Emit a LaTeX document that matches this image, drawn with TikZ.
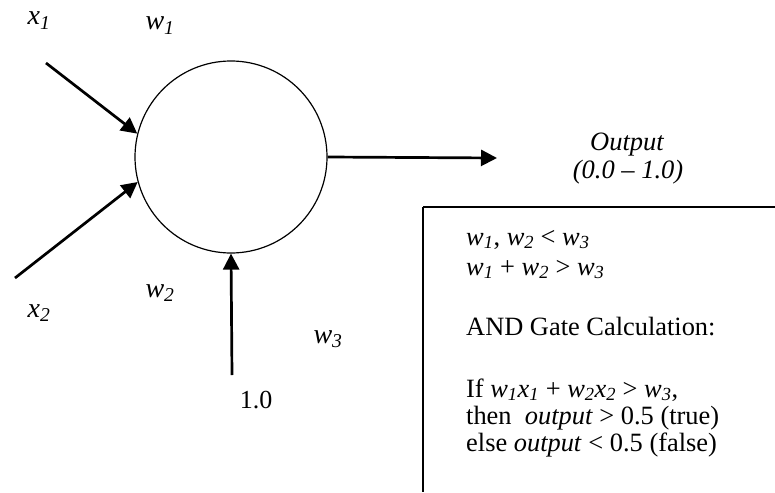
\documentclass[tikz,border=0pt]{standalone}
\usepackage{fontspec}
\setmainfont{Liberation Serif}
\usetikzlibrary{arrows.meta}
\newcommand{\vw}[1]{\textit{w\textsubscript{#1}}}
\newcommand{\vx}[1]{\textit{x\textsubscript{#1}}}
\begin{document}
\begin{tikzpicture}[x=1pt,y=-1pt,
  lbl/.style={font=\fontsize{28}{30}\selectfont\itshape, anchor=base, inner sep=0pt},
  midlbl/.style={font=\fontsize{26.5}{28}\selectfont\itshape, anchor=base, inner sep=0pt},
  plainlbl/.style={font=\fontsize{26}{28}\selectfont, anchor=base, inner sep=0pt},
  txt/.style={font=\fontsize{26.4}{28}\selectfont, anchor=base west, inner sep=0pt},
  conn/.style={line width=2.7pt, -{Triangle[length=16pt,width=16pt]}},
  neuronstyle/.style={circle, draw, line width=1.2pt, minimum size=192pt, inner sep=0pt},
  boxline/.style={line width=2.2pt}]
\useasboundingbox (0,0) rectangle (775,492);
% neuron
\node[neuronstyle] (neuron) at (231,157) {};
% input start points
\coordinate (s1) at (46,63);
\coordinate (s2) at (15,278);
\coordinate (s3) at (232,375);
\coordinate (oend) at (497,158);
% connectors
\draw[conn] (s1) -- (neuron.166);
\draw[conn] (s2) -- (neuron.195);
\draw[conn] (s3) -- (neuron.south);
\draw[conn] (neuron.east) -- (oend);
% labels
\node[lbl] (lx1) at (39,25) {x\textsubscript{1}};
\node[lbl] (lw1) at (160,30) {w\textsubscript{1}};
\node[lbl] (lw2) at (160,297) {w\textsubscript{2}};
\node[lbl] (lx2) at (39,317) {x\textsubscript{2}};
\node[lbl] (lw3) at (328,343) {w\textsubscript{3}};
\node[plainlbl] (lone) at (256,408) {1.0};
\node[midlbl] (lout) at (627,150) {Output};
\node[midlbl] (lrange) at (628,178) {(0.0 – 1.0)};
% box
\coordinate (btr) at (775,207);
\coordinate (btl) at (423,207);
\coordinate (bbl) at (423,492);
\draw[boxline] (btr) -- (btl);
\draw[line width=1.6pt] (btl) -- (bbl);
% box text
\node[txt] (t1) at (466,245) {\vw{1}, \vw{2} < \vw{3}};
\node[txt] (t2) at (466,275) {\vw{1} + \vw{2} > \vw{3}};
\node[txt] (t3) at (466,335) {AND Gate Calculation:};
\node[txt] (t4) at (466,397) {If \vw{1}\vx{1} + \vw{2}\vx{2} > \vw{3},};
\node[txt] (t5) at (466,424) {then\ \ \textit{output} > 0.5 (true)};
\node[txt] (t6) at (466,451) {else \textit{output} < 0.5 (false)};
\end{tikzpicture}
\end{document}
